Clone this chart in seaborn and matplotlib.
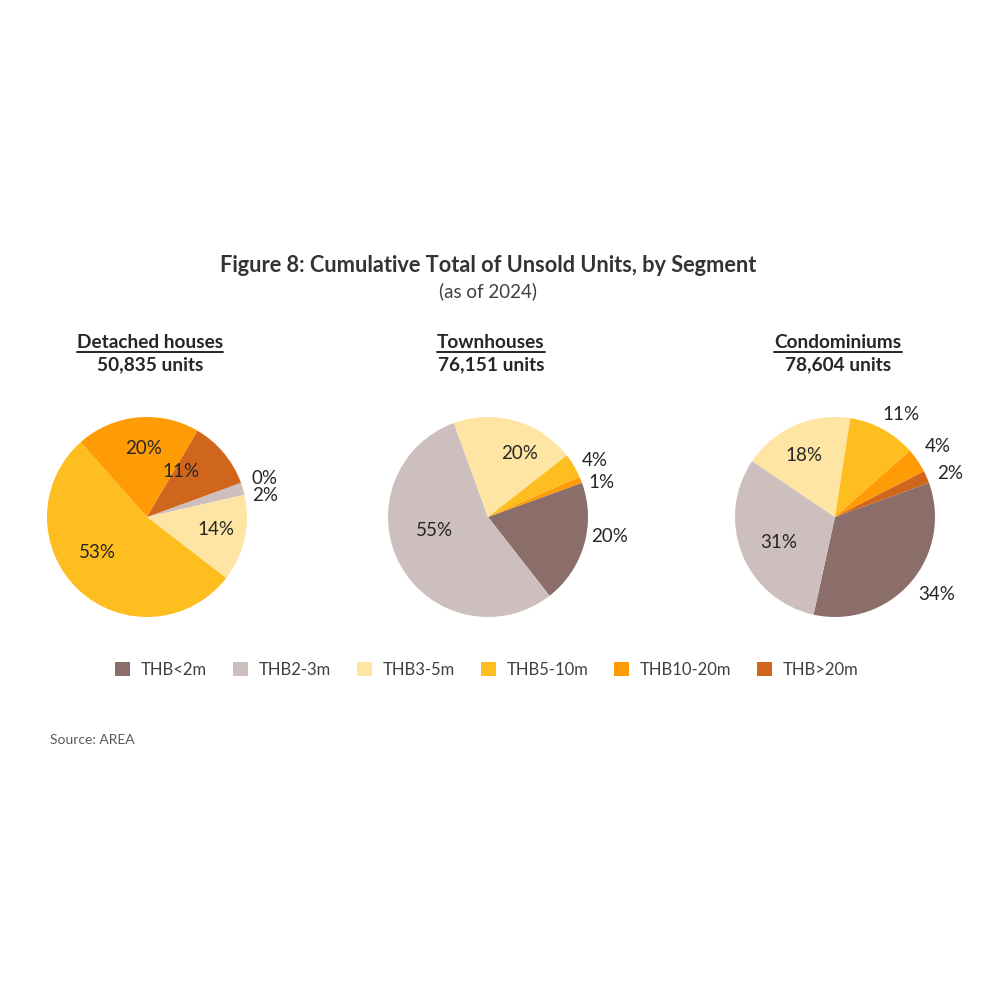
import matplotlib
matplotlib.use('Agg')
import matplotlib.pyplot as plt
import seaborn as sns
import numpy as np
from matplotlib.patches import Patch
from matplotlib.lines import Line2D

# ── Data ──────────────────────────────────────────────────────────────────────
segments = ['Detached houses', 'Townhouses', 'Condominiums']
unit_totals = ['50,835 units', '76,151 units', '78,604 units']
price_bands = ['THB<2m', 'THB2-3m', 'THB3-5m', 'THB5-10m', 'THB10-20m', 'THB>20m']
detached_pct = [0, 2, 14, 53, 20, 11]
townhouse_pct = [20, 55, 20, 4, 1, 0]
condo_pct = [34, 31, 18, 11, 4, 2]

# ── Styling ───────────────────────────────────────────────────────────────────
sns.set_theme(style='white')
plt.rcParams['font.family'] = ['Lato', 'DejaVu Sans']
TEXT = '#262626'
band_colors = sns.color_palette(['#8B6E69', '#CDBFBD', '#FFE5A3',
                                 '#FFBE1F', '#FF9B05', '#D0651C'])

# label placement per slice: radius (None = hidden) and angle nudge (deg)
label_style = {
    'Detached houses': ([1.24, 1.20, 0.70, 0.61, 0.69, 0.57],
                        [-2, -6, 2, -11, -3, 14]),
    'Townhouses': ([1.23, 0.55, 0.71, 1.21, 1.19, None],
                   [7, -15, -10, -3, -5, 0]),
    'Condominiums': ([1.28, 0.62, 0.69, 1.22, 1.24, 1.23],
                     [4, 2, 3, -4, 0, -3]),
}
centers_px = [(147, 517), (488, 517), (835, 517)]
R_PX = 100
HALF = 160

fig = plt.figure(figsize=(10, 10), dpi=100)
fig.patch.set_facecolor('white')

fig.text(0.488, 1 - 265 / 1000, 'Figure 8: Cumulative Total of Unsold Units, by Segment',
         ha='center', va='center', fontsize=15.7, fontweight='bold', color='#333333')
fig.text(0.488, 1 - 291 / 1000, '(as of 2024)', ha='center', va='center',
         fontsize=13.5, color='#404040')

titles = []
for seg, total, vals, (cx, cy) in zip(segments, unit_totals,
                                      [detached_pct, townhouse_pct, condo_pct],
                                      centers_px):
    ax = fig.add_axes([(cx - HALF) / 1000, 1 - (cy + HALF) / 1000,
                       2 * HALF / 1000, 2 * HALF / 1000])
    wedges, _ = ax.pie(vals, colors=band_colors, startangle=20, counterclock=False,
                       radius=1, wedgeprops=dict(linewidth=0))
    lim = HALF / R_PX
    ax.set_xlim(-lim, lim)
    ax.set_ylim(-lim, lim)
    ax.set_aspect('equal')
    ax.axis('off')

    radii, nudges = label_style[seg]
    for w, v, r, da in zip(wedges, vals, radii, nudges):
        if r is None:
            continue
        mid = np.deg2rad((w.theta1 + w.theta2) / 2 + da)
        ax.text(r * np.cos(mid), r * np.sin(mid), f'{v}%', ha='center',
                va='center', fontsize=13.5, color=TEXT)

    t = fig.text(cx / 1000 + 0.003, 1 - 342 / 1000, seg, ha='center', va='center',
                 fontsize=13.7, fontweight='bold', color=TEXT)
    titles.append(t)
    fig.text(cx / 1000 + 0.003, 1 - 365 / 1000, total, ha='center', va='center',
             fontsize=13.7, fontweight='bold', color=TEXT)

# underline the segment titles
fig.canvas.draw()
renderer = fig.canvas.get_renderer()
for t in titles:
    bb = t.get_window_extent(renderer)
    y = (bb.y0 - 1) / 1000
    fig.add_artist(Line2D([bb.x0 / 1000, bb.x1 / 1000], [y, y],
                          transform=fig.transFigure, color=TEXT, linewidth=1.4))

handles = [Patch(facecolor=c, edgecolor='none', label=b)
           for b, c in zip(price_bands, band_colors)]
fig.legend(handles=handles, loc='center', bbox_to_anchor=(0.487, 1 - 670 / 1000),
           ncol=6, frameon=False, fontsize=12, handlelength=0.9, handleheight=0.9,
           handletextpad=0.65, columnspacing=1.55, labelcolor='#404040')

fig.text(0.05, 1 - 740 / 1000, 'Source: AREA', ha='left', va='center',
         fontsize=10, color='#595959')

fig.savefig('out.png', dpi=100, facecolor='white')
